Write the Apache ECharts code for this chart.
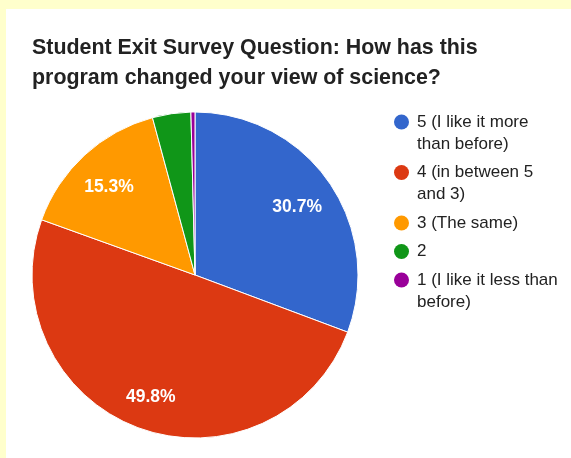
<!DOCTYPE html>
<html>
<head>
<meta charset="utf-8">
<script src="https://cdn.jsdelivr.net/npm/echarts@6/dist/echarts.min.js"></script>
<style>
  html, body { margin: 0; padding: 0; width: 571px; height: 458px; background: #ffffcc; overflow: hidden; }
  #chart { position: absolute; left: 6px; top: 9px; width: 565px; height: 449px; background: #ffffff; }
</style>
</head>
<body>
<div id="chart"></div>
<script>
const titleText = 'Student Exit Survey Question: How has this\nprogram changed your view of science?';
const categories = ['5 (I like it more than before)', '4 (in between 5 and 3)', '3 (The same)', '2', '1 (I like it less than before)'];
const legendLines = [
  ['5 (I like it more', 'than before)'],
  ['4 (in between 5', 'and 3)'],
  ['3 (The same)'],
  ['2'],
  ['1 (I like it less than', 'before)']
];
const percents = [30.7, 49.8, 15.3, 3.8, 0.4];
const colors = ['#3366cc', '#dc3912', '#ff9900', '#109618', '#990099'];

const chart = echarts.init(document.getElementById('chart'), null, { renderer: 'canvas' });

const rich = {
  t: { fontSize: 17, lineHeight: 22, color: '#222222', fontFamily: 'Liberation Sans, Arial, sans-serif' },
  s: { width: 8, height: 22 },
  g: { width: 23, height: 22 }
};
colors.forEach((c, i) => {
  rich['d' + i] = { width: 15, height: 15, borderRadius: 7.5, backgroundColor: c };
});

const data = categories.map((name, i) => ({ name: name, value: percents[i] }));

chart.setOption({
  backgroundColor: '#ffffff',
  color: colors,
  animation: false,
  title: {
    text: titleText,
    left: 21,
    top: 19,
    textStyle: {
      fontSize: 21.4,
      fontWeight: 'bold',
      lineHeight: 30,
      color: '#222222',
      fontFamily: 'Liberation Sans, Arial, sans-serif'
    }
  },
  legend: {
    orient: 'vertical',
    left: 377,
    top: 97,
    itemWidth: 0,
    itemHeight: 0,
    itemGap: 6.5,
    data: categories,
    formatter: function (name) {
      const i = categories.indexOf(name);
      const lines = legendLines[i];
      let s = '{d' + i + '|}{s|}{t|' + lines[0] + '}';
      for (let k = 1; k < lines.length; k++) {
        s += '\n{g|}{t|' + lines[k] + '}';
      }
      return s;
    },
    textStyle: { rich: rich, fontSize: 17, lineHeight: 22 }
  },
  series: [
    {
      type: 'pie',
      center: [189, 266],
      radius: [0, 163],
      startAngle: 90,
      clockwise: true,
      label: { show: false },
      labelLine: { show: false },
      itemStyle: { borderColor: '#ffffff', borderWidth: 1 },
      emphasis: { disabled: true },
      data: data
    },
    {
      type: 'pie',
      center: [189, 266],
      radius: [82, 163],
      startAngle: 90,
      clockwise: true,
      silent: true,
      itemStyle: { color: 'rgba(0,0,0,0)', borderWidth: 0 },
      labelLine: { show: false },
      label: {
        show: true,
        position: 'inside',
        offset: [-1, 4],
        color: '#ffffff',
        fontSize: 17.5,
        fontWeight: 'bold',
        fontFamily: 'Liberation Sans, Arial, sans-serif',
        formatter: function (p) { return p.value >= 5 ? p.value.toFixed(1) + '%' : ''; }
      },
      emphasis: { disabled: true },
      data: data
    }
  ]
});
</script>
</body>
</html>
